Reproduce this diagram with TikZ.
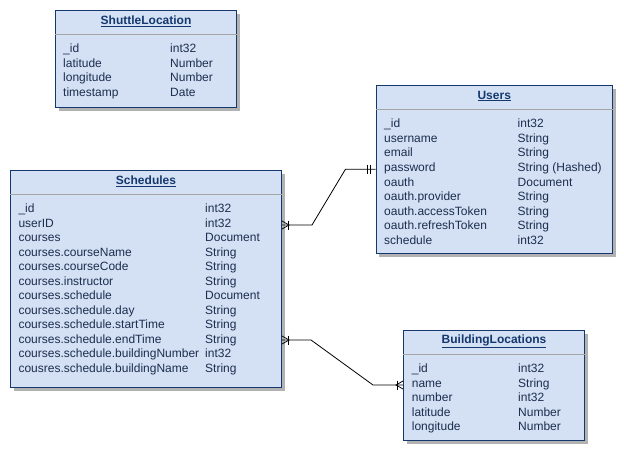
\documentclass[tikz,border=0pt]{standalone}
\usepackage{fontspec}
\setmainfont{Liberation Sans}
\usetikzlibrary{shadows}
\definecolor{entfill}{HTML}{D4E1F5}
\definecolor{entline}{HTML}{14386E}
\definecolor{enttext}{HTML}{1C2D4D}
\tikzset{
  entity/.style={draw=entline, line width=1pt, fill=entfill, anchor=north west, inner sep=0pt,
    drop shadow={shadow xshift=3pt, shadow yshift=-3pt, fill=black!30, opacity=1}},
  enttitle/.style={font=\fontsize{12}{14.4}\selectfont\bfseries, text=entline, inner sep=0pt},
  field/.style={anchor=west, inner sep=0pt, text=enttext, text height=8.6pt, text depth=0pt},
  divider/.style={draw=black!35, line width=1pt},
  link/.style={draw=black, line width=0.8pt},
  crowfoot/.pic={\draw[link] (0,-4) -- (7,0) -- (0,4); \draw[link] (6,-4.5) -- (6,4.5);},
  mandone/.pic={\draw[link] (5,-4.5) -- (5,4.5); \draw[link] (8,-4.5) -- (8,4.5);}
}
\begin{document}
\begin{tikzpicture}[x=1pt, y=-1pt, font=\fontsize{12}{14.4}\selectfont]
	\useasboundingbox[fill=white] (0,0) rectangle (624,455);

	% entities
	\node[entity, minimum width=181pt, minimum height=97pt] (shuttle) at (55,10) {};
	\node[entity, minimum width=236.5pt, minimum height=168pt] (users) at (375.5,85) {};
	\node[entity, minimum width=271pt, minimum height=217pt] (sched) at (10,170) {};
	\node[entity, minimum width=181pt, minimum height=110pt] (bld) at (403,330) {};

	% titles and dividers
	\node[enttitle] (shuttle-t) at ([yshift=-11pt]shuttle.north) {\underline{ShuttleLocation}};
	\node[enttitle] (users-t) at ([yshift=-11pt]users.north) {\underline{Users}};
	\node[enttitle] (sched-t) at ([yshift=-11pt]sched.north) {\underline{Schedules}};
	\node[enttitle] (bld-t) at ([yshift=-11pt]bld.north) {\underline{BuildingLocations}};
	\foreach \e in {shuttle, users, sched, bld}
		\draw[divider] ([yshift=-24.5pt]\e.north west) -- ([yshift=-24.5pt]\e.north east);

	% fields
	\foreach \f/\t [count=\i] in {\_id/int32, latitude/Number, longitude/Number, timestamp/Date} {
		\node[field] (shl-\i) at (63, {48.5+14.55*(\i-1)}) {\f};
		\node[field] (shl-\i-t) at (170, {48.5+14.55*(\i-1)}) {\t};
	}
	\foreach \f/\t [count=\i] in {\_id/int32, username/String, email/String,
		password/String (Hashed), oauth/Document, oauth.provider/String,
		oauth.accessToken/String, oauth.refreshToken/String, schedule/int32} {
		\node[field] (usr-\i) at (384, {123.5+14.55*(\i-1)}) {\f};
		\node[field] (usr-\i-t) at (517.5, {123.5+14.55*(\i-1)}) {\t};
	}
	\foreach \f/\t [count=\i] in {\_id/int32, userID/int32, courses/Document,
		courses.courseName/String, courses.courseCode/String, courses.instructor/String,
		courses.schedule/Document, courses.schedule.day/String,
		courses.schedule.startTime/String, courses.schedule.endTime/String,
		courses.schedule.buildingNumber/int32, cousres.schedule.buildingName/String} {
		\node[field] (sch-\i) at (18.3, {208.5+14.5*(\i-1)}) {\f};
		\node[field] (sch-\i-t) at (205, {208.5+14.5*(\i-1)}) {\t};
	}
	\foreach \f/\t [count=\i] in {\_id/int32, name/String, number/int32,
		latitude/Number, longitude/Number} {
		\node[field] (bld-\i) at (411.7, {368.5+14.5*(\i-1)}) {\f};
		\node[field] (bld-\i-t) at (518, {368.5+14.5*(\i-1)}) {\t};
	}

	% relations
	\coordinate (s-out1) at ([yshift=-2pt]sched.east |- sch-2);
	\coordinate (u-in) at ([yshift=-2pt]users.west |- usr-4);
	\coordinate (s-out2) at ([yshift=-1pt]sched.east |- sch-10);
	\coordinate (b-in) at ([yshift=-2pt]bld.west |- bld-2);
	\draw[link] (s-out1) -- ++(30,0) -- ([xshift=-30pt]u-in) -- (u-in);
	\draw[link] (s-out2) -- ++(29,0) -- ([xshift=-30pt]b-in) -- (b-in);
	\pic at (s-out1) {crowfoot};
	\pic at (s-out2) {crowfoot};
	\pic[xscale=-1] at (u-in) {mandone};
	\pic[xscale=-1] at (b-in) {crowfoot};
\end{tikzpicture}
\end{document}
